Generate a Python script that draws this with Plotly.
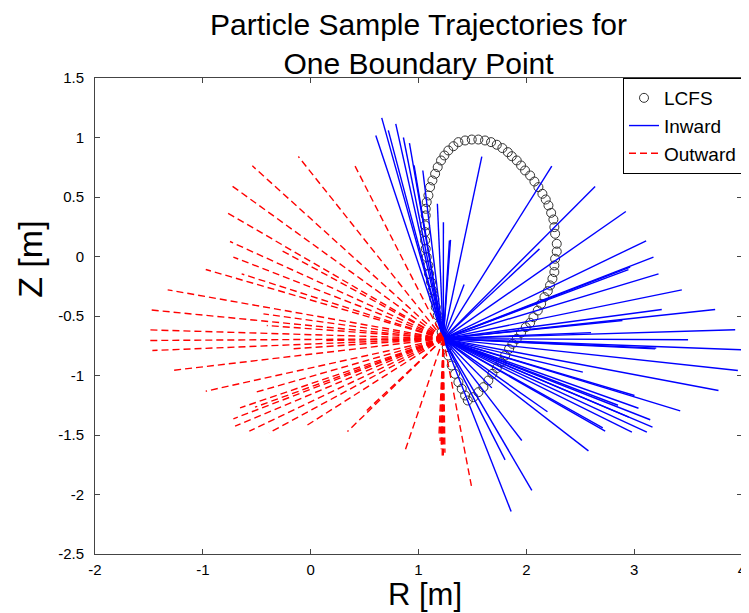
import plotly.graph_objects as go

# ---------------- data ----------------
origin_r = 1.23
origin_z = -0.69

lcfs_r = [1.457, 1.432, 1.401, 1.370, 1.339, 1.308, 1.277, 1.262, 1.240, 1.215,
          1.200, 1.178, 1.160, 1.147, 1.129, 1.116, 1.098, 1.092, 1.076, 1.067,
          1.061, 1.061, 1.061, 1.067, 1.067, 1.076, 1.092, 1.107, 1.129, 1.154,
          1.178, 1.209, 1.240, 1.277, 1.324, 1.370, 1.432, 1.494, 1.555, 1.617,
          1.673, 1.726, 1.778, 1.828, 1.865, 1.911, 1.951, 1.988, 2.035, 2.075,
          2.112, 2.149, 2.180, 2.205, 2.230, 2.251, 2.260, 2.267, 2.282, 2.282,
          2.267, 2.260, 2.260, 2.242, 2.220, 2.199, 2.168, 2.137, 2.106, 2.066,
          2.035, 1.995, 1.951, 1.911, 1.871, 1.840, 1.803, 1.766, 1.726, 1.685,
          1.648, 1.602, 1.556, 1.509]
lcfs_z = [-1.210, -1.168, -1.112, -1.056, -0.986, -0.916, -0.832, -0.762, -0.706, -0.636,
          -0.566, -0.496, -0.426, -0.356, -0.286, -0.215, -0.145, -0.075, -0.005, 0.065,
          0.135, 0.205, 0.261, 0.345, 0.401, 0.457, 0.513, 0.583, 0.639, 0.695,
          0.751, 0.807, 0.849, 0.891, 0.927, 0.961, 0.975, 0.983, 0.983, 0.975,
          0.961, 0.939, 0.911, 0.877, 0.843, 0.807, 0.765, 0.723, 0.681, 0.630,
          0.583, 0.527, 0.479, 0.429, 0.367, 0.311, 0.247, 0.191, 0.107, 0.042,
          -0.019, -0.075, -0.131, -0.187, -0.243, -0.291, -0.341, -0.398, -0.454, -0.510,
          -0.557, -0.594, -0.641, -0.692, -0.734, -0.776, -0.832, -0.888, -0.938, -0.986,
          -1.042, -1.098, -1.140, -1.182]

inward_end_r = [0.659, 0.604, 0.789, 0.916, 0.959, 1.040, 1.175, 1.231, 1.287, 1.297,
                1.587, 1.423, 2.236, 2.638, 2.923, 3.111, 3.179, 2.963, 2.947, 3.226,
                3.442, 3.256, 3.751, 2.122, 3.937, 2.891, 4.000, 3.195, 3.205, 3.962,
                3.782, 3.427, 3.040, 3.003, 3.149, 3.170, 3.118, 2.979, 2.731, 2.709,
                2.524, 2.196, 2.576, 1.958, 1.803, 2.051, 1.859, 1.680, 2.850, 2.950,
                3.500, 2.600, 0.720, 0.860]
inward_end_z = [1.165, 1.017, 1.115, 0.952, 0.765, 0.723, 0.443, 0.288, 0.134, 0.140,
                0.840, -0.235, 0.759, 0.588, 0.378, 0.132, -0.006, -0.090, -0.110, -0.146,
                -0.280, -0.445, -0.445, 0.064, -0.616, -0.538, -0.784, -0.776, -0.770, -0.958,
                -1.126, -1.297, -1.275, -1.168, -1.372, -1.434, -1.476, -1.476, -1.468, -1.440,
                -0.972, -1.305, -1.633, -1.546, -1.709, -1.966, -2.143, -1.104, -1.250, -1.350,
                -0.700, -0.640, 1.060, 1.000]

outward_end_r = [-0.114, -0.541, 0.412, -0.726, -0.794, -0.748, -0.717, -0.973, -1.326, -1.496,
                 -1.515, -1.515, -1.468, -1.289, -0.973, -0.655, -0.717, -0.701, -0.569, -0.386,
                 -0.052, 0.341, 0.876, -0.268, -0.640, -0.531, -0.176, -0.516, 0.520, -0.438,
                 -0.407, 0.118, 1.200, 1.210, 1.220, 1.230, 1.215, 1.494, 1.190, 1.245]
outward_end_z = [0.840, 0.762, 0.759, 0.591, 0.378, 0.126, -0.005, -0.109, -0.280, -0.448,
                 -0.616, -0.706, -0.790, -0.958, -1.132, -1.272, -1.364, -1.426, -1.468, -1.482,
                 -1.429, -1.471, -1.630, 0.050, -0.146, -1.146, -0.776, -1.266, -1.294, -0.482,
                 -0.580, -0.706, -1.550, -1.620, -1.680, -1.700, -1.580, -1.944, -1.500, -1.650]

x_ticks = [-2, -1, 0, 1, 2, 3, 4]
y_ticks = [-2.5, -2, -1.5, -1, -0.5, 0, 0.5, 1, 1.5]


def segments(end_r, end_z):
    xs, ys = [], []
    for r, z in zip(end_r, end_z):
        xs += [origin_r, r, None]
        ys += [origin_z, z, None]
    return xs, ys


FONT = "Liberation Sans, Arial, sans-serif"

fig = go.Figure()
fig.add_trace(go.Scatter(
    x=lcfs_r, y=lcfs_z, mode="markers", name="LCFS",
    marker=dict(symbol="circle-open", size=9, color="#333333", line=dict(width=1)),
))
ix, iy = segments(inward_end_r, inward_end_z)
fig.add_trace(go.Scatter(
    x=ix, y=iy, mode="lines", name="Inward",
    line=dict(color="#0000ff", width=1.4),
))
ox, oy = segments(outward_end_r, outward_end_z)
fig.add_trace(go.Scatter(
    x=ox, y=oy, mode="lines", name="Outward",
    line=dict(color="#ff0000", width=1.4, dash="7px,4px"),
))

axis_common = dict(
    showgrid=False, zeroline=False, showline=True, linecolor="#444444", linewidth=1,
    mirror="allticks", ticks="inside", ticklen=5, tickcolor="#444444",
    tickfont=dict(family=FONT, size=15, color="#000000"),
    automargin=False,
)
fig.update_xaxes(range=[-2, 4], tickvals=x_ticks, ticklabelstandoff=2,
                 ticktext=[str(v) for v in x_ticks], **axis_common)
fig.update_yaxes(range=[-2.5, 1.5], tickvals=y_ticks, ticklabelstandoff=7,
                 ticktext=[("%g" % v) for v in y_ticks], **axis_common)

W, H = 741, 605  # page body adds an 8px offset
fig.update_layout(
    width=W, height=H,
    margin=dict(l=87, r=7, t=70, b=59, autoexpand=False),
    paper_bgcolor="white", plot_bgcolor="white",
    title=dict(
        text="Particle Sample Trajectories for<br>One Boundary Point",
        font=dict(family=FONT, size=30, color="#000000"),
        x=0.5, xref="paper", xanchor="center",
        y=1 - 27 / H, yref="container", yanchor="middle",
    ),
    legend=dict(
        x=1, y=1, xanchor="right", yanchor="top",
        bgcolor="white", bordercolor="#000000", borderwidth=1,
        font=dict(family=FONT, size=19, color="#000000"),
        itemwidth=30, tracegroupgap=0,
    ),
    showlegend=True,
    annotations=[
        dict(text="R [m]", xref="paper", yref="paper", x=0.51, y=-0.086,
             xanchor="center", yanchor="middle", showarrow=False,
             font=dict(family=FONT, size=31, color="#000000")),
        dict(text="Z [m]", xref="paper", yref="paper", x=-0.1005, y=0.62,
             xanchor="center", yanchor="middle", showarrow=False, textangle=-90,
             font=dict(family=FONT, size=34, color="#000000")),
    ],
)

fig.write_html("out.html")
